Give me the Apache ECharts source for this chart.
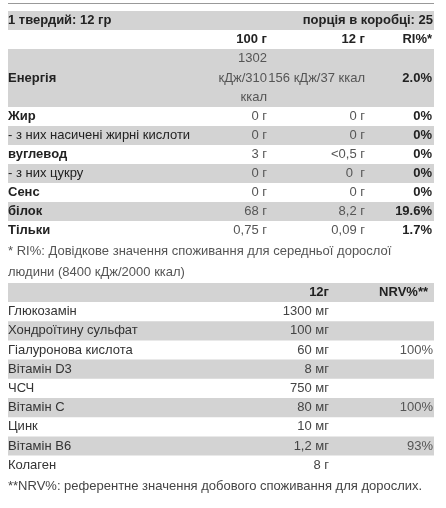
<!DOCTYPE html>
<html><head><meta charset="utf-8">
<script src="https://cdn.jsdelivr.net/npm/echarts@6/dist/echarts.min.js"></script>
<style>html,body{margin:0;padding:0;background:#fff}#c{width:446px;height:508px}</style>
</head><body><div id="c"></div>
<script>
const headerLeft = '1 твердий: 12 гр';
const headerRight = 'порція в коробці: 25';
const colHeads = ['100 г', '12 г', 'RI%*'];
const nutrients = ['Енергія', 'Жир', '- з них насичені жирні кислоти', 'вуглевод', '- з них цукру', 'Сенс', 'білок', 'Тільки'];
const nutrientBold = [true, true, false, true, false, true, true, true];
const per100 = ['1302\nкДж/310\nккал', '0 г', '0 г', '3 г', '0 г', '0 г', '68 г', '0,75 г'];
const perServing = ['156 кДж/37 ккал', '0 г', '0 г', '<0,5 г', '0  г', '0 г', '8,2 г', '0,09 г'];
const ri = ['2.0%', '0%', '0%', '0%', '0%', '0%', '19.6%', '1.7%'];
const note1 = ['* RI%: Довідкове значення споживання для середньої дорослої', 'людини (8400 кДж/2000 ккал)'];
const colHeads2 = ['12г', 'NRV%**'];
const ingredients = ['Глюкозамін', 'Хондроїтину сульфат', 'Гіалуронова кислота', 'Вітамін D3', 'ЧСЧ', 'Вітамін C', 'Цинк', 'Вітамін B6', 'Колаген'];
const amounts = ['1300 мг', '100 мг', '60 мг', '8 мг', '750 мг', '80 мг', '10 мг', '1,2 мг', '8 г'];
const nrv = ['', '', '100%', '', '', '100%', '', '93%', ''];
const note2 = '**NRV%: референтне значення добового споживання для дорослих.';

const F = 'Liberation Sans, Arial, sans-serif';
const G = '#d3d3d3';
const els = [];
const L = 8, R = 434;
function rect(y, h) { els.push({type:'rect', shape:{x:L, y:y, width:R-L, height:h}, style:{fill:G}, silent:true}); }
function txt(x, y, s, align, bold, color, lh) {
  els.push({type:'text', x:x, y:y, style:{text:s, font:(bold?'bold ':'')+'13px '+F, fill:color||'#333', align:align||'left', verticalAlign:'middle', lineHeight:lh||19}, silent:true});
}
els.push({type:'rect', shape:{x:L, y:3, width:R-L, height:1}, style:{fill:'#999'}, silent:true});
rect(11, 19);
txt(L, 20.5, headerLeft, 'left', true, '#222');
txt(R-1, 20.5, headerRight, 'right', true, '#222');
txt(267, 39.5, colHeads[0], 'right', true, '#222');
txt(365, 39.5, colHeads[1], 'right', true, '#222');
txt(432, 39.5, colHeads[2], 'right', true, '#222');
let y = 49;
nutrients.forEach((n, i) => {
  const h = i === 0 ? 58 : 19;
  if (i % 2 === 0) rect(y, h);
  const cy = y + h / 2;
  txt(L, cy, n, 'left', nutrientBold[i], '#222');
  txt(267, cy, per100[i], 'right', false, '#555', 19.5);
  txt(365, cy, perServing[i], 'right', false, '#555');
  txt(432, cy, ri[i], 'right', true, '#222');
  y += h;
});
txt(L, 251, note1[0], 'left', false, '#555');
txt(L, 272, note1[1], 'left', false, '#555');
rect(283, 19);
txt(329, 292.5, colHeads2[0], 'right', true, '#222');
txt(428, 292.5, colHeads2[1], 'right', true, '#222');
y = 302;
ingredients.forEach((n, i) => {
  if (i % 2 === 1) rect(y, 19.2);
  const cy = y + 9.6;
  txt(L, cy, n, 'left', false, '#333');
  txt(329, cy, amounts[i], 'right', false, '#444');
  txt(433, cy, nrv[i], 'right', false, '#555');
  y += 19.2;
});
txt(L, 486, note2, 'left', false, '#444');

const chart = echarts.init(document.getElementById('c'));
chart.setOption({animation:false, graphic:{elements:els}});
</script></body></html>
